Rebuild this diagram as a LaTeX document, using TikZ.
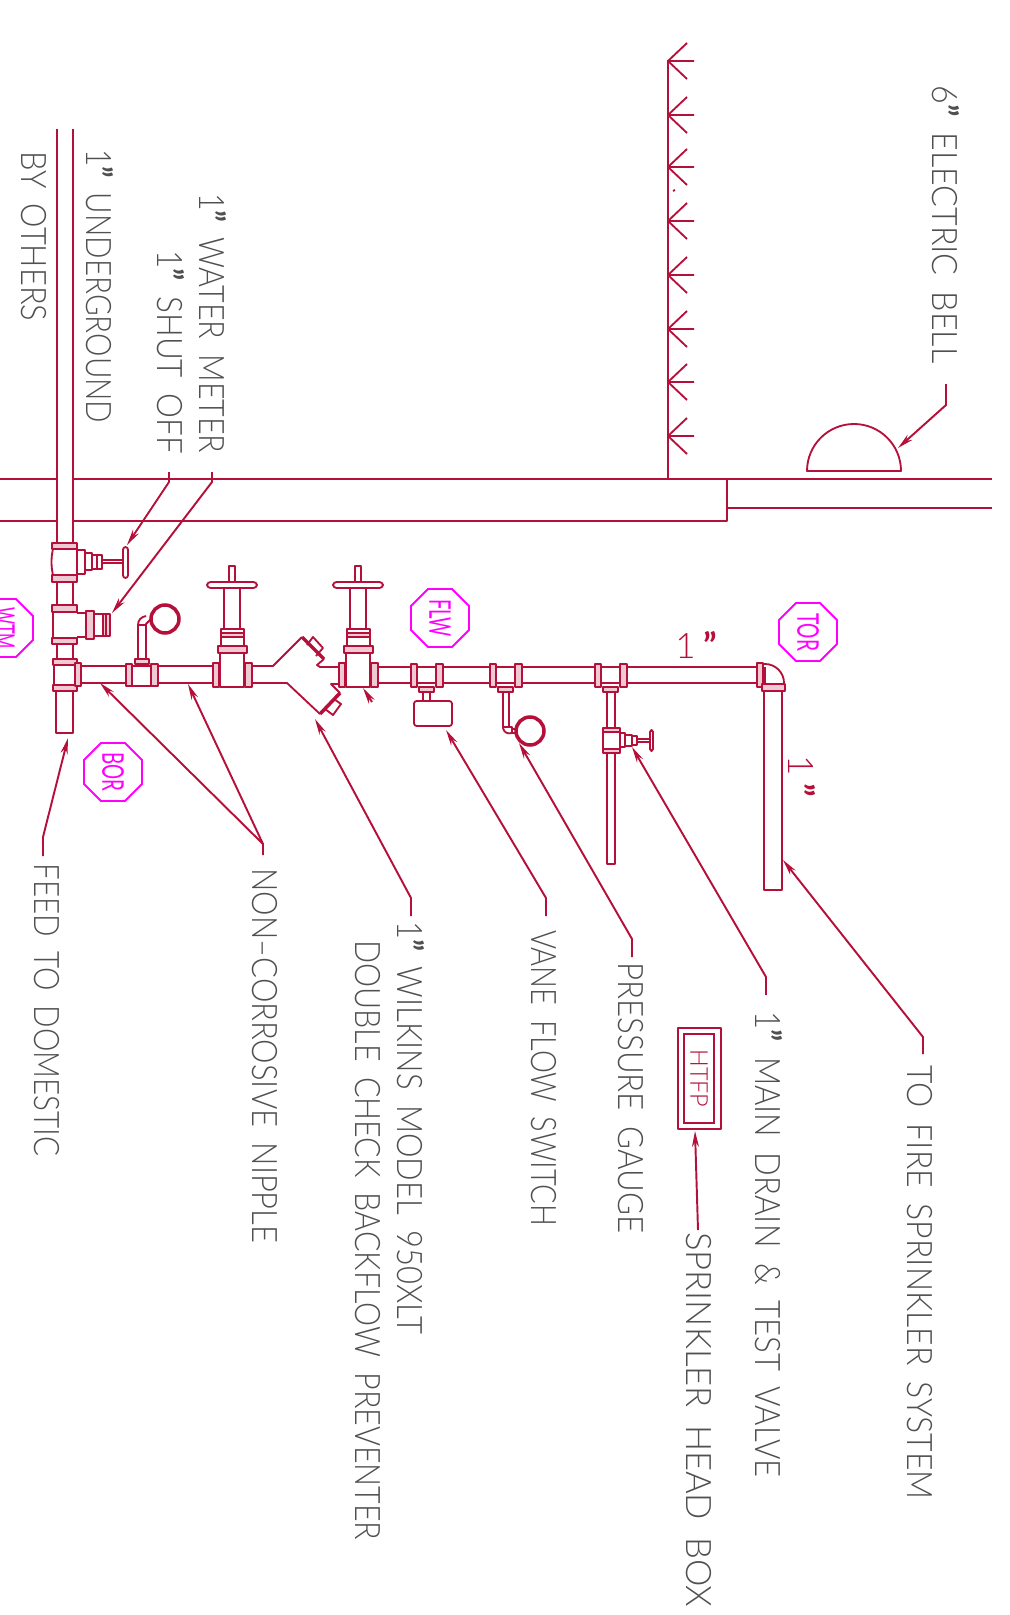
\documentclass[tikz,border=0pt]{standalone}
\usepackage{xcolor}
\usepackage{graphicx}
\usepackage{fontspec}
\setmainfont{Lato Light}
\newfontfamily\tagfont{Lato}
\newfontfamily\quotefont{Lato Bold}
\usetikzlibrary{arrows.meta,shapes.geometric}
\definecolor{pipered}{HTML}{B5103A}
\definecolor{notegrey}{HTML}{505050}
\definecolor{tagpink}{HTML}{FF00FF}
\newlength{\pxu}
\setlength{\pxu}{0.02cm}
\newcommand{\qm}{{\quotefont ”}}
\newcommand{\wg}{\hspace{0.5em}}
\newcommand{\calllabel}[5]{\node[noteline] (#1) at (#2,#3) {\resizebox{#4\pxu}{\height}{#5}};}

\begin{document}
\begin{tikzpicture}[
  x=0.02cm, y=-0.02cm,
  pipe/.style={draw=pipered, line width=1.05pt, line join=round},
  band/.style={pipe, fill=pipered!22},
  thickpipe/.style={draw=pipered, line width=2pt},
  leader/.style={draw=pipered, line width=1.1pt, -{Stealth[length=0.32cm,width=0.14cm]}},
  noteline/.style={rotate=-90, anchor=base west, inner sep=0pt, text=notegrey, font=\fontsize{20}{20}\selectfont},
  sizemark/.style={inner sep=0pt, text=pipered, font=\fontsize{20}{20}\selectfont},
  tag/.style={regular polygon, regular polygon sides=8, draw=tagpink, line width=1.05pt, minimum size=1.256cm, inner sep=0pt},
  tagword/.style={rotate=-90, inner sep=0pt, text=tagpink, font=\tagfont\fontsize{17}{17}\selectfont}
]
\clip (0,0) rectangle (1010,1615);

% wall and sprinkler line
\draw[pipe] (0,479) -- (57,479) (73,479) -- (992,479);
\draw[pipe] (0,521) -- (57,521) (73,521) -- (727,521) -- (727,479);
\draw[pipe] (727,508) -- (992,508);
\draw[pipe] (668,479) -- (668,60);
\foreach \hy in {61,115,167,221,275,329,382,436} {
  \draw[pipe] (694,\hy) -- (668,\hy) (687,\hy-18) -- (668,\hy) -- (687,\hy+18);
}
\draw[pipe] (673,191) -- (675,190);

% bell
\draw[pipe] (807,471) arc[start angle=180, end angle=360, radius=47] -- cycle;

% riser
\draw[pipe] (57,129) -- (57,543) (73,129) -- (73,543);
\draw[pipe] (57,582) -- (57,605) (73,582) -- (73,605);
\draw[pipe] (57,644) -- (57,659) (73,644) -- (73,659);
\draw[pipe] (56,691) -- (56,733) -- (73,733) -- (73,691);

% shut off valve
\draw[band] (52,543) rectangle (77,549);
\draw[band] (52,575) rectangle (77,582);
\draw[pipe] (53,549) .. controls (51,558) and (51,566) .. (53,575);
\draw[pipe] (77,549) -- (77,575);
\draw[pipe] (77,550) rectangle (85,574);
\draw[pipe] (85,553) rectangle (92,570);
\draw[pipe] (92,555) rectangle (102,569);
\draw[pipe] (97,555) -- (97,569);
\draw[pipe] (102,560) rectangle (123,563);
\draw[pipe, rounded corners=1.5pt] (123,547) rectangle (128,578);

% water meter
\draw[band] (52,605) rectangle (77,612);
\draw[band] (52,638) rectangle (77,644);
\draw[pipe] (53,612) -- (53,638) (77,613) -- (86,613) (77,637) -- (86,637);
\draw[band] (86,611) rectangle (94,639);
\draw[pipe] (94,614) rectangle (103,636);
\draw[band] (103,614) rectangle (110,636);
\draw[pipe] (106,614) -- (106,636);

% bottom tee
\draw[band] (53,659) rectangle (77,665);
\draw[band] (53,685) rectangle (77,691);
\draw[pipe] (54,665) -- (54,685) (75,665) -- (75,685);
\draw[band] (75,663) rectangle (81,686);

% horizontal line
\draw[pipe] (81,666) -- (126,666) (81,683) -- (126,683);
\draw[pipe] (158,666) -- (213,666) (158,683) -- (213,683);
\draw[pipe] (378,667) -- (411,667) (378,683) -- (411,683);
\draw[pipe] (443,667) -- (490,667) (443,683) -- (490,683);
\draw[pipe] (523,667) -- (595,667) (523,683) -- (595,683);
\draw[pipe] (627,667) -- (757,667) (627,683) -- (757,683);

% union with gauge
\draw[band] (126,664) rectangle (132,686);
\draw[pipe] (132,666) rectangle (151,686);
\draw[band] (151,664) rectangle (158,686);
\draw[band] (135,659) rectangle (149,664);
\draw[pipe] (138,659) -- (138,625) .. controls (138,620) and (141,617) .. (146,616);
\draw[pipe] (146,659) -- (146,624) -- (151,619);
\draw[pipe] (138,625) -- (146,625);
\draw[thickpipe] (165,619) circle (14);

% gate valves
\foreach \vx in {213,339} {
  \draw[band] (\vx,663) rectangle (\vx+6,687);
  \draw[pipe] (\vx+7,653) rectangle (\vx+31,687);
  \draw[band] (\vx+32,663) rectangle (\vx+39,687);
  \draw[band] (\vx+5,646) rectangle (\vx+34,653);
  \draw[pipe] (\vx+8,629) rectangle (\vx+31,646);
  \draw[band] (\vx+8,633) rectangle (\vx+31,637);
  \draw[pipe] (\vx+11,588) rectangle (\vx+27,629);
  \draw[pipe, rounded corners=2pt] (\vx-6,582) rectangle (\vx+44,588);
  \draw[pipe] (\vx+16,566) rectangle (\vx+22,582);
}

% backflow preventer
\draw[pipe] (252,666) -- (273,666) -- (302,637);
\draw[thickpipe] (302,637) -- (324,659);
\draw[pipe] (324,659) -- (317,665) -- (320,667) -- (339,667);
\draw[pipe] (307,645) -- (313,637) -- (323,648) -- (316,656);
\draw[pipe] (252,683) -- (287,683) -- (320,714);
\draw[thickpipe] (320,714) -- (340,693);
\draw[pipe] (340,693) -- (331,684) -- (339,684);
\draw[pipe] (325,709) -- (333,715) -- (341,704) -- (334,699);

% tees
\foreach \tx in {411,490,595} {
  \draw[band] (\tx,664) rectangle (\tx+6,687);
  \draw[pipe] (\tx+6,667) -- (\tx+25,667) (\tx+6,683) -- (\tx+25,683);
  \draw[band] (\tx+25,664) rectangle (\tx+32,687);
  \draw[band] (\tx+8,687) rectangle (\tx+23,692);
}

% flow switch
\draw[pipe] (423,692) rectangle (430,701);
\draw[pipe, rounded corners=1.5pt] (414,701) rectangle (452,726);

% second gauge
\draw[pipe] (503,692) -- (503,728) .. controls (504,733) and (508,734) .. (512,733) -- (512,727) -- (503,727);
\draw[pipe] (509,692) -- (509,727);
\draw[pipe] (512,729) rectangle (516,733);
\draw[thickpipe] (530,731) circle (14);

% drain and test
\draw[pipe] (607,692) -- (607,728) (615,692) -- (615,728);
\draw[pipe] (607,753) -- (607,864) -- (615,864) -- (615,753);
\draw[band] (603,728) rectangle (620,732);
\draw[band] (603,749) rectangle (620,753);
\draw[pipe] (603,732) -- (603,749) (620,732) -- (620,749);
\draw[pipe] (620,733) rectangle (625,747);
\draw[pipe] (625,735) rectangle (632,746);
\draw[pipe] (632,736) rectangle (637,745);
\draw[pipe] (637,739) rectangle (650,742);
\draw[pipe, rounded corners=1pt] (650,730) rectangle (653,751);

% elbow and feed to system
\draw[band] (757,663) rectangle (763,687);
\draw[pipe] (763,664) -- (765,664) arc[start angle=270, end angle=360, radius=19] -- (784,684);
\draw[pipe] (765,667) -- (765,684);
\draw[band] (762,684) rectangle (785,691);
\draw[pipe] (764,691) rectangle (782,890);

% sizes
\node[sizemark, anchor=base west] (topsize) at (675,658) {1\hspace{0.22em}\qm};
\node[sizemark, anchor=base west, rotate=-90] (sidesize) at (788,755) {1\hspace{0.22em}\qm};

% tags
\node[tag] (wtm) at (4,628) {};
\node[tag] (bor) at (113,772) {};
\node[tag] (flw) at (440,618) {};
\node[tag] (tor) at (808,632) {};
\node[tagword] (wtmword) at (wtm.center) {\resizebox{42\pxu}{\height}{WTM}};
\node[tagword] (borword) at (bor.center) {\resizebox{39\pxu}{\height}{BOR}};
\node[tagword] (flwword) at (flw.center) {\resizebox{38\pxu}{\height}{FLW}};
\node[tagword] (torword) at (tor.center) {\resizebox{38\pxu}{\height}{TOR}};

% head box
\draw[pipe] (678,1028) rectangle (721,1129);
\node[draw=pipered, line width=1.05pt, minimum width=0.6cm, minimum height=1.78cm, inner sep=0pt, text=pipered] (htfp) at (699,1078.5) {\rotatebox{-90}{\resizebox{58\pxu}{\height}{\fontsize{14}{14}\selectfont HTFP}}};

% notes
\calllabel{byothers}{21}{151}{170}{BY\wg OTHERS}
\calllabel{underground}{86}{149}{274}{1\qm\wg UNDERGROUND}
\calllabel{shutoff}{157}{250}{204}{1\qm\wg SHUT\wg OFF}
\calllabel{watermeter}{199}{193}{260}{1\qm\wg WATER\wg METER}
\calllabel{bell}{932}{85}{278}{6\qm\wg ELECTRIC\wg BELL}
\calllabel{feed}{34}{863}{293}{FEED\wg TO\wg DOMESTIC}
\calllabel{nipple}{252}{868}{375}{NON–CORROSIVE\wg NIPPLE}
\calllabel{wilkins}{397}{921}{413}{1\qm\wg WILKINS\wg MODEL\wg 950XLT}
\calllabel{dcheck}{355}{940}{600}{DOUBLE\wg CHECK\wg BACKFLOW\wg PREVENTER}
\calllabel{vane}{531}{930}{296}{VANE\wg FLOW\wg SWITCH}
\calllabel{gauge}{618}{962}{271}{PRESSURE\wg GAUGE}
\calllabel{headbox}{686}{1232}{375}{SPRINKLER\wg HEAD\wg BOX}
\calllabel{drain}{755}{1011}{466}{1\qm\wg MAIN\wg DRAIN\wg \&\wg TEST\wg VALVE}
\calllabel{system}{907}{1065}{434}{TO\wg FIRE\wg SPRINKLER\wg SYSTEM}

% leaders
\coordinate (feedend) at (68,738);
\coordinate (nipplea) at (100,683);
\coordinate (nippleb) at (188,684);
\coordinate (bfpend) at (315,719);
\coordinate (vaneend) at (446,730);
\coordinate (gaugeend) at (519,743);
\coordinate (drainend) at (632,747);
\coordinate (systemend) at (783,860);
\coordinate (shutend) at (127,545);
\coordinate (meterend) at (112,613);
\coordinate (bellend) at (898,448);
\coordinate (valveend) at (363,688);
\coordinate (boxend) at (695,1131);
\draw[leader] (43,856) -- (43,837) -- (feedend);
\draw[leader] (263,855) -- (263,844) -- (nipplea);
\draw[leader] (263,844) -- (nippleb);
\draw[leader] (411,916) -- (411,898) -- (bfpend);
\draw[leader] (546,916) -- (546,898) -- (vaneend);
\draw[leader] (632,957) -- (632,939) -- (gaugeend);
\draw[leader] (766,995) -- (766,977) -- (drainend);
\draw[leader] (923,1054) -- (923,1037) -- (systemend);
\draw[leader] (169,472) -- (169,482) -- (shutend);
\draw[leader] (212,472) -- (212,482) -- (meterend);
\draw[leader] (946,384) -- (946,405) -- (bellend);
\draw[leader] (372,702) -- (valveend);
\draw[leader] (698,1230) -- (boxend);
\end{tikzpicture}
\end{document}
